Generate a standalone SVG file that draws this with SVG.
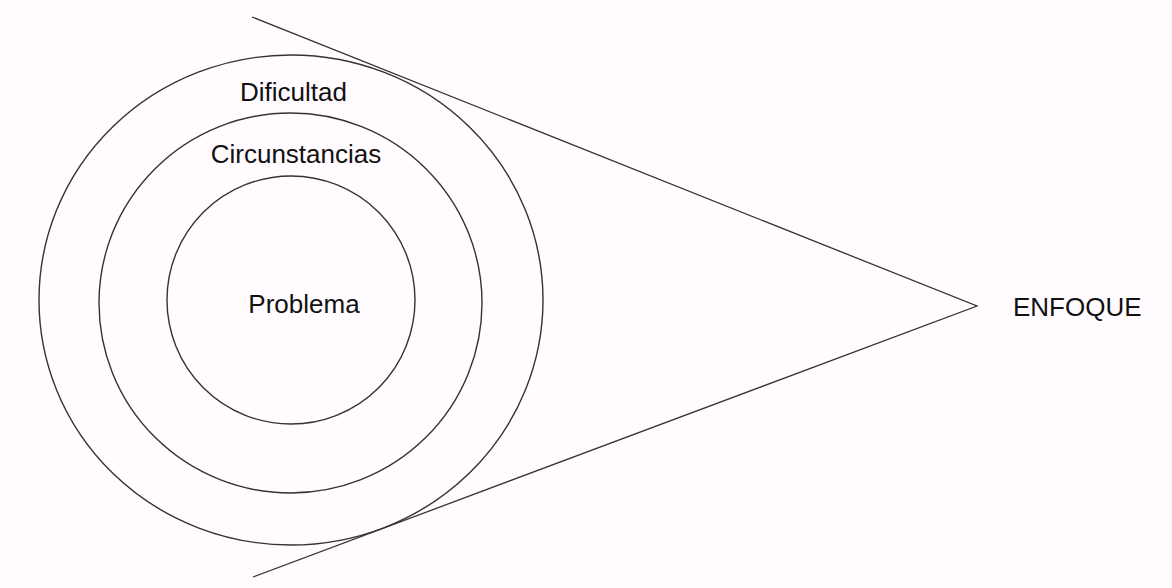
<svg xmlns="http://www.w3.org/2000/svg" width="1172" height="588" viewBox="0 0 1172 588">
<style>
.ring{fill:none;stroke:#333;stroke-width:1.4}
.ln{fill:none;stroke:#333;stroke-width:1.3}
text{font-family:"Liberation Sans",Arial,sans-serif;font-size:26px;fill:#111}
</style>
<rect width="1172" height="588" fill="#fffbff"/>
<g id="dificultad">
<ellipse class="ring" cx="291" cy="300" rx="252" ry="245"/>
<text x="293.5" y="101" text-anchor="middle">Dificultad</text>
</g>
<g id="circunstancias">
<ellipse class="ring" cx="290.5" cy="303" rx="191.5" ry="190"/>
<text x="296" y="163" text-anchor="middle">Circunstancias</text>
</g>
<g id="problema">
<circle class="ring" cx="291" cy="300" r="124"/>
<text x="304" y="313" text-anchor="middle">Problema</text>
</g>
<g id="enfoque">
<text x="1013" y="316">ENFOQUE</text>
</g>
<g id="connectors">
<polyline class="ln" points="252,17 977,306 253,577"/>
</g>
</svg>
